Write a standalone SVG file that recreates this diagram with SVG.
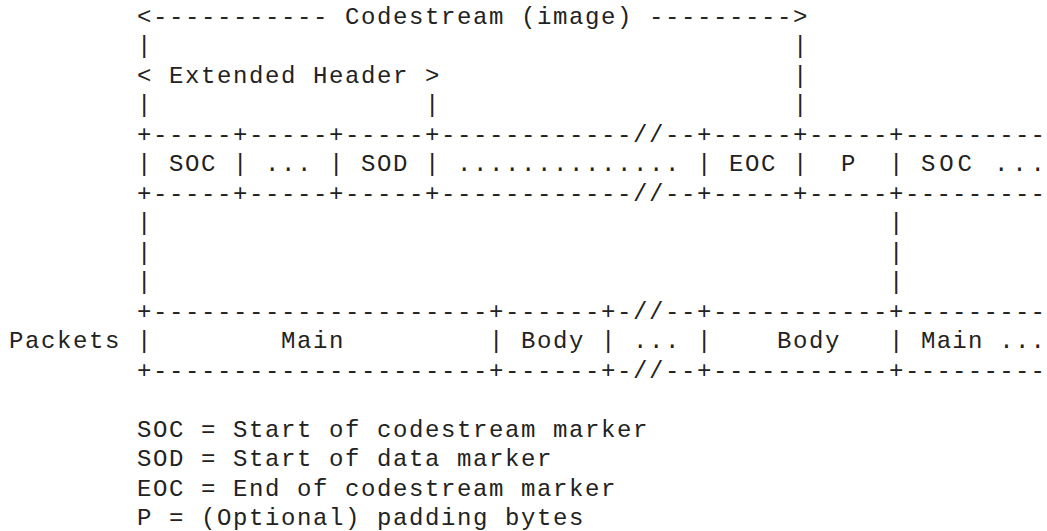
<svg xmlns="http://www.w3.org/2000/svg" width="1047" height="531" viewBox="0 0 1047 531" xml:space="preserve">
  <style>
    .t { font-family: "Liberation Mono", "Courier New", monospace; font-size: 24px; letter-spacing: 1.6px; fill: #222; white-space: pre; }
    .edge { letter-spacing: 0; }
  </style>
  <rect width="1047" height="531" fill="#fff"/>

  <!-- Character grid: column c at x = 9 + 16c, line i baseline at y = 23.5 + 29.5i -->

  <!-- Extent of the whole codestream and of the extended header -->
  <g id="codestream-extent">
    <text class="t" x="137" y="23.5">&lt;----------- Codestream (image) ---------&gt;</text>
  </g>
  <g id="extended-header">
    <text class="t" x="137" y="82.5">&lt; Extended Header &gt;</text>
  </g>

  <!-- Codestream fields -->
  <g id="soc"><text class="t" x="169" y="171">SOC</text></g>
  <g id="header-more"><text class="t" x="265" y="171">...</text></g>
  <g id="sod"><text class="t" x="361" y="171">SOD</text></g>
  <g id="data"><text class="t" x="457" y="171">..............</text></g>
  <g id="eoc"><text class="t" x="729" y="171">EOC</text></g>
  <g id="padding"><text class="t" x="841" y="171">P</text></g>
  <g id="next-soc"><text class="t edge" x="921" y="171" textLength="124" lengthAdjust="spacing">SOC ...</text></g>

  <!-- Packet row -->
  <g id="packets-label"><text class="t" x="9" y="348">Packets</text></g>
  <g id="main-packet"><text class="t" x="281" y="348">Main</text></g>
  <g id="body-packet"><text class="t" x="521" y="348">Body</text></g>
  <g id="more-packets"><text class="t" x="633" y="348">...</text></g>
  <g id="last-body-packet"><text class="t" x="777" y="348">Body</text></g>
  <g id="next-main-packet"><text class="t edge" x="921" y="348" textLength="124" lengthAdjust="spacing">Main ...</text></g>

  <!-- Frames, separators and vertical links -->
  <g id="connectors">
    <text class="t" x="137" y="53">|</text>
    <text class="t" x="793" y="53">|</text>
    <text class="t" x="793" y="82.5">|</text>
    <text class="t" x="137" y="112">|</text>
    <text class="t" x="425" y="112">|</text>
    <text class="t" x="793" y="112">|</text>

    <text class="t" x="137" y="141.5">+-----+-----+-----+------------//--+-----+-----+</text>
    <text class="t edge" x="905" y="141.5" textLength="140" lengthAdjust="spacing">---------</text>
    <text class="t" x="137" y="171">|</text>
    <text class="t" x="233" y="171">|</text>
    <text class="t" x="329" y="171">|</text>
    <text class="t" x="425" y="171">|</text>
    <text class="t" x="697" y="171">|</text>
    <text class="t" x="793" y="171">|</text>
    <text class="t" x="889" y="171">|</text>
    <text class="t" x="137" y="200.5">+-----+-----+-----+------------//--+-----+-----+</text>
    <text class="t edge" x="905" y="200.5" textLength="140" lengthAdjust="spacing">---------</text>

    <text class="t" x="137" y="230">|</text>
    <text class="t" x="889" y="230">|</text>
    <text class="t" x="137" y="259.5">|</text>
    <text class="t" x="889" y="259.5">|</text>
    <text class="t" x="137" y="289">|</text>
    <text class="t" x="889" y="289">|</text>

    <text class="t" x="137" y="318.5">+---------------------+------+-//--+-----------+</text>
    <text class="t edge" x="905" y="318.5" textLength="140" lengthAdjust="spacing">---------</text>
    <text class="t" x="137" y="348">|</text>
    <text class="t" x="489" y="348">|</text>
    <text class="t" x="601" y="348">|</text>
    <text class="t" x="697" y="348">|</text>
    <text class="t" x="889" y="348">|</text>
    <text class="t" x="137" y="377.5">+---------------------+------+-//--+-----------+</text>
    <text class="t edge" x="905" y="377.5" textLength="140" lengthAdjust="spacing">---------</text>
  </g>

  <!-- Legend -->
  <g id="legend">
    <text class="t" x="137" y="436.5">SOC = Start of codestream marker</text>
    <text class="t" x="137" y="466">SOD = Start of data marker</text>
    <text class="t" x="137" y="495.5">EOC = End of codestream marker</text>
    <text class="t" x="137" y="525">P = (Optional) padding bytes</text>
  </g>
</svg>
